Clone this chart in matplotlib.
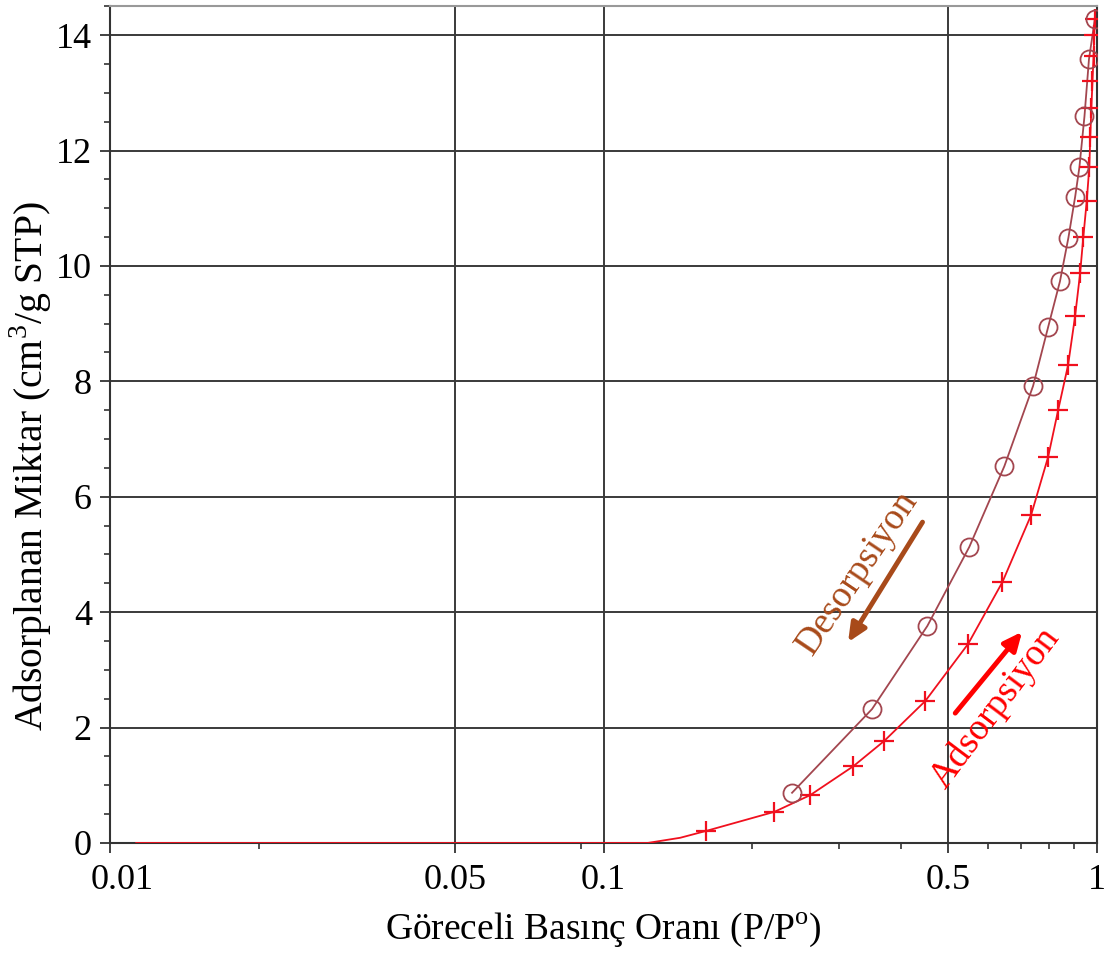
import matplotlib.pyplot as plt
from matplotlib.ticker import FixedLocator, NullFormatter
from matplotlib.transforms import ScaledTranslation

plt.rcParams['font.family'] = ['Liberation Serif', 'DejaVu Serif']
plt.rcParams['mathtext.fontset'] = 'custom'
plt.rcParams['mathtext.rm'] = 'Liberation Serif'

# adsorption branch (+ markers)
ads_x = [0.1616, 0.222, 0.2624, 0.3208, 0.3707, 0.4487, 0.548, 0.643, 0.735,
         0.796, 0.834, 0.8736, 0.9027, 0.924, 0.938, 0.953, 0.9647, 0.969,
         0.974, 0.979, 0.984, 0.987, 0.99]
ads_y = [0.21, 0.54, 0.83, 1.33, 1.77, 2.46, 3.45, 4.52, 5.68, 6.69, 7.50,
         8.28, 9.13, 9.87, 10.50, 11.12, 11.72, 12.24, 12.74, 13.21, 13.64,
         14.0, 14.28]
# flat lead-in of the adsorption curve (no markers)
ads_lead_x = [0.0113, 0.1228, 0.143]
ads_lead_y = [0.0, 0.0, 0.09]

# desorption branch (o markers)
des_x = [0.241, 0.350, 0.453, 0.551, 0.649, 0.742, 0.796, 0.841, 0.875,
         0.903, 0.921, 0.943, 0.963, 0.99]
des_y = [0.87, 2.32, 3.76, 5.13, 6.53, 7.92, 8.94, 9.73, 10.49, 11.20,
         11.71, 12.59, 13.58, 14.28]

x_major = [0.01, 0.05, 0.1, 0.5, 1]
x_major_labels = ['0.01', '0.05', '0.1', '0.5', '1']
x_minor = [0.02, 0.09, 0.2, 0.3, 0.4, 0.6, 0.7, 0.8, 0.9]
y_major = [0, 2, 4, 6, 8, 10, 12, 14]

red = '#f0101e'
brown = '#a3464f'
arrow_brown = '#a84a1a'

fig = plt.figure(figsize=(11.2, 9.6), dpi=100)
ax = fig.add_axes([0.0982, 0.1219, 0.8813, 0.8716])

ax.set_xscale('log')
ax.set_xlim(0.01, 1)
ax.set_ylim(0, 14.5)

# grid
for v in [0.05, 0.1, 0.5]:
    ax.axvline(v, color='#3a3a3a', lw=1.4, zorder=1)
for v in y_major[1:]:
    ax.axhline(v, color='#3a3a3a', lw=1.4, zorder=1)

# curves
ax.plot(ads_lead_x + ads_x, ads_lead_y + ads_y, color=red, lw=1.3, zorder=3)
ax.plot(ads_x, ads_y, ls='none', marker='+', ms=14, mew=1.6, color=red, zorder=4)
ax.plot(des_x, des_y, color=brown, lw=1.3, zorder=3)
ax.plot(des_x, des_y, ls='none', marker='o', ms=13, mfc='none', mew=1.3,
        color=brown, zorder=4)

# ticks
ax.xaxis.set_major_locator(FixedLocator(x_major))
ax.set_xticklabels(x_major_labels)
ax.xaxis.set_minor_locator(FixedLocator(x_minor))
ax.xaxis.set_minor_formatter(NullFormatter())
ax.set_yticks(y_major)
ax.yaxis.set_minor_locator(FixedLocator([i * 0.5 for i in range(30)]))
ax.tick_params(which='major', length=7, width=1.3, color='#333333',
               labelsize=26, pad=6)
ax.tick_params(axis='x', which='major', pad=8)
ax.tick_params(which='minor', length=4, width=1.2, color='#333333')

# first x label sits a little right of its tick
lbl = ax.get_xticklabels()[0]
lbl.set_transform(lbl.get_transform() + ScaledTranslation(0.12, 0, fig.dpi_scale_trans))

for s in ['left', 'bottom', 'right']:
    ax.spines[s].set_color('#333333')
    ax.spines[s].set_linewidth(1.5)
ax.spines['top'].set_color('#999999')
ax.spines['top'].set_linewidth(1.5)

ax.set_xlabel('Göreceli Basınç Oranı (P/P$^{\\rm o}$)', fontsize=27, labelpad=10)
ax.set_ylabel('Adsorplanan Miktar (cm$^3$/g STP)', fontsize=28.5)
ax.yaxis.set_label_coords(-0.057, 0.45)

# annotations
ax.annotate('', xy=(0.313, 3.48), xytext=(0.443, 5.56),
            arrowprops=dict(arrowstyle='-|>,head_length=1.1,head_width=0.5',
                            lw=3.5, color=arrow_brown, shrinkA=0, shrinkB=0))
ax.text(0.327, 4.68, 'Desorpsiyon', color=arrow_brown, fontsize=27,
        rotation=56, ha='center', va='center')
ax.annotate('', xy=(0.705, 3.66), xytext=(0.516, 2.25),
            arrowprops=dict(arrowstyle='-|>,head_length=1.1,head_width=0.5',
                            lw=3.5, color='#ff0000', shrinkA=0, shrinkB=0))
ax.text(0.622, 2.34, 'Adsorpsiyon', color='#ff0000', fontsize=27,
        rotation=53, ha='center', va='center')

fig.savefig('out.png', dpi=100)
